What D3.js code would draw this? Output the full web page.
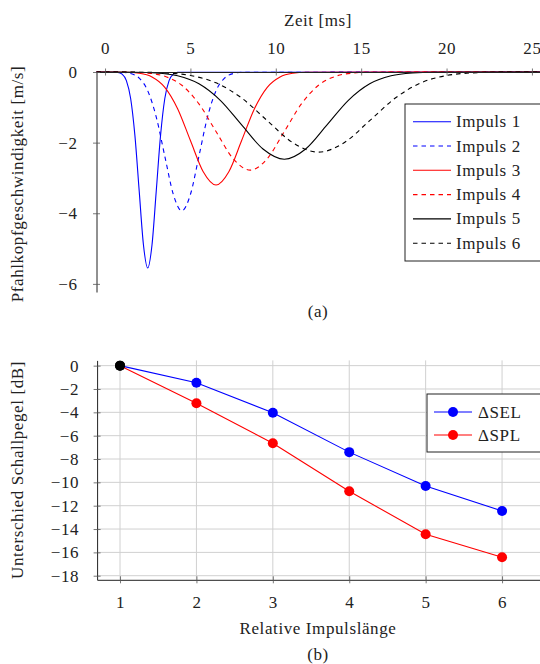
<!DOCTYPE html>
<html>
<head>
<meta charset="utf-8">
<script src="https://cdn.jsdelivr.net/npm/d3@7"></script>
<style>
  body { margin: 0; background: #fff; }
  svg { display: block; font-family: "Liberation Serif", "DejaVu Serif", serif; letter-spacing: 0.6px; }
</style>
</head>
<body>
<svg id="chart" width="540" height="664"></svg>
<script>
// (a) Pfahlkopfgeschwindigkeit, sample points
var impulsNamen = ["Impuls 1", "Impuls 2", "Impuls 3", "Impuls 4", "Impuls 5", "Impuls 6"];
var impulsFarben = ["#0000ff", "#0000ff", "#ff0000", "#ff0000", "#000000", "#000000"];
var impulsGestrichelt = [false, true, false, true, false, true];

var impulsZeit = [
    [-0.5, 0.75, 1.0, 1.25, 1.5, 1.75, 2.0, 2.25, 2.5, 2.75, 3.0, 3.25, 3.5, 3.75, 4.0, 4.25, 26],
    [-0.5, 1.0, 1.5, 2.0, 2.5, 3.0, 3.5, 4.0, 4.5, 5.0, 5.5, 6.0, 6.5, 7.0, 7.5, 8.0, 26],
    [-0.5, 1.25, 2.0, 2.75, 3.5, 4.25, 5.0, 5.75, 6.5, 7.25, 8.0, 8.75, 9.5, 10.25, 11.0, 11.75, 26],
    [-0.5, 1.5, 2.5, 3.5, 4.5, 5.5, 6.5, 7.5, 8.5, 9.5, 10.5, 11.5, 12.5, 13.5, 14.5, 15.5, 26],
    [-0.5, 1.75, 3.0, 4.25, 5.5, 6.75, 8.0, 9.25, 10.5, 11.75, 13.0, 14.25, 15.5, 16.75, 18.0, 19.25, 26],
    [-0.5, 2.0, 3.5, 5.0, 6.5, 8.0, 9.5, 11.0, 12.5, 14.0, 15.5, 17.0, 18.5, 20.0, 21.5, 23.0, 26]
];
var impulsWert = [
    [0, -0.012, -0.062, -0.244, -0.751, -1.802, -3.366, -4.898, -5.55, -4.898, -3.366, -1.802, -0.751, -0.244, -0.062, -0.012, 0],
    [0, -0.009, -0.044, -0.173, -0.532, -1.276, -2.384, -3.468, -3.93, -3.468, -2.384, -1.276, -0.532, -0.173, -0.044, -0.009, 0],
    [0, -0.007, -0.036, -0.140, -0.433, -1.039, -1.941, -2.824, -3.2, -2.824, -1.941, -1.039, -0.433, -0.140, -0.036, -0.007, 0],
    [0, -0.006, -0.031, -0.122, -0.376, -0.903, -1.686, -2.453, -2.78, -2.453, -1.686, -0.903, -0.376, -0.122, -0.031, -0.006, 0],
    [0, -0.005, -0.027, -0.108, -0.334, -0.802, -1.498, -2.180, -2.47, -2.180, -1.498, -0.802, -0.334, -0.108, -0.027, -0.005, 0],
    [0, -0.005, -0.025, -0.100, -0.307, -0.737, -1.377, -2.003, -2.27, -2.003, -1.377, -0.737, -0.307, -0.100, -0.025, -0.005, 0]
];
var zeitTicks = [0, 5, 10, 15, 20, 25];
var geschwTicks = [0, -2, -4, -6];

// (b) Unterschied Schallpegel
var impulsLaenge = [1, 2, 3, 4, 5, 6];
var deltaSEL = [0, -1.46, -4.03, -7.41, -10.31, -12.45];
var deltaSPL = [0, -3.22, -6.65, -10.76, -14.45, -16.42];
var laengeTicks = [1, 2, 3, 4, 5, 6];
var pegelTicks = [0, -2, -4, -6, -8, -10, -12, -14, -16, -18];

var svg = d3.select("#chart");
var fs = 17;
var fam = "Liberation Serif, DejaVu Serif, serif";
var tickCol = "#555";

function fmt(v) { return v < 0 ? "\u2212" + Math.abs(v) : String(v); }

// crossing tick marks, pgfplots style
function crossTicks(g, horizontal) {
    g.attr("font-family", fam);
    g.selectAll(".tick line")
        .attr("stroke", tickCol).attr("stroke-width", 0.8);
    if (horizontal) g.selectAll(".tick line").attr("y1", -3.5).attr("y2", 3.5);
    else g.selectAll(".tick line").attr("x1", -3.5).attr("x2", 3.5);
    g.select(".domain").attr("stroke", "#222").attr("stroke-width", 1);
    g.selectAll(".tick text").attr("fill", "#222").attr("font-size", fs).attr("font-family", fam);
}

// ---------- chart (a) ----------
var xA = d3.scaleLinear().domain([-0.5, 26]).range([96.5, 549]);
var yA = d3.scaleLinear().domain([-6.23, 0]).range([292, 72]);

var line = d3.line()
    .x(function(d) { return xA(d[0]); })
    .y(function(d) { return yA(d[1]); })
    .curve(d3.curveMonotoneX);

var gA = svg.append("g");

gA.selectAll("path.impuls")
    .data(impulsNamen)
    .enter()
    .append("path")
    .attr("class", "impuls")
    .attr("d", function(d, i) { return line(d3.zip(impulsZeit[i], impulsWert[i])); })
    .attr("fill", "none")
    .attr("stroke", function(d, i) { return impulsFarben[i]; })
    .attr("stroke-width", 1.1)
    .attr("stroke-dasharray", function(d, i) { return impulsGestrichelt[i] ? "4.5,4" : null; });

var axA_x = gA.append("g")
    .attr("transform", "translate(0," + yA(0) + ")")
    .call(d3.axisTop(xA).tickValues(zeitTicks).tickSizeOuter(0).tickPadding(12).tickFormat(fmt));
crossTicks(axA_x, true);

var axA_y = gA.append("g")
    .attr("transform", "translate(" + xA(-0.5) + ",0)")
    .call(d3.axisLeft(yA).tickValues(geschwTicks).tickSizeOuter(0).tickPadding(13).tickFormat(fmt));
crossTicks(axA_y, false);

gA.append("text").attr("x", 318).attr("y", 26).attr("text-anchor", "middle")
    .attr("font-size", fs).attr("fill", "#222").text("Zeit [ms]");
gA.append("text").attr("transform", "translate(23,184) rotate(-90)").attr("text-anchor", "middle")
    .attr("font-size", fs).attr("fill", "#222").text("Pfahlkopfgeschwindigkeit [m/s]");
gA.append("text").attr("x", 318).attr("y", 317).attr("text-anchor", "middle")
    .attr("font-size", fs).attr("fill", "#222").text("(a)");

// legend (a)
var legA = gA.append("g").attr("transform", "translate(405,104)");
legA.append("rect").attr("width", 150).attr("height", 157)
    .attr("fill", "#fff").attr("stroke", "#222").attr("stroke-width", 1);
var legItems = legA.selectAll("g.item").data(impulsNamen).enter().append("g")
    .attr("transform", function(d, i) { return "translate(0," + (17.7 + i * 24.3) + ")"; });
legItems.append("line").attr("x1", 8).attr("x2", 46).attr("y1", 0).attr("y2", 0)
    .attr("stroke", function(d, i) { return impulsFarben[i]; })
    .attr("stroke-width", 1.1)
    .attr("stroke-dasharray", function(d, i) { return impulsGestrichelt[i] ? "4.5,4" : null; });
legItems.append("text").attr("x", 51).attr("y", 5.5).attr("font-size", fs).attr("fill", "#222")
    .text(function(d) { return d; });

// ---------- chart (b) ----------
var xB = d3.scaleLinear().domain([0.7, 6.85]).range([97.1, 567]);
var yB = d3.scaleLinear().domain([-18.35, 0.45]).range([579.8, 360.4]);

var gB = svg.append("g");

// grid
gB.selectAll("line.vgrid").data(laengeTicks).enter().append("line")
    .attr("x1", function(d) { return xB(d); }).attr("x2", function(d) { return xB(d); })
    .attr("y1", yB(0.45)).attr("y2", yB(-18.35))
    .attr("stroke", "#d0d0d0").attr("stroke-width", 1);
gB.selectAll("line.hgrid").data(pegelTicks).enter().append("line")
    .attr("x1", xB(0.7)).attr("x2", xB(6.85))
    .attr("y1", function(d) { return yB(d); }).attr("y2", function(d) { return yB(d); })
    .attr("stroke", "#d0d0d0").attr("stroke-width", 1);

var axB_x = gB.append("g")
    .attr("transform", "translate(0," + yB(-18.35) + ")")
    .call(d3.axisBottom(xB).tickValues(laengeTicks).tickSizeOuter(0).tickPadding(10).tickFormat(fmt));
crossTicks(axB_x, true);

var axB_y = gB.append("g")
    .attr("transform", "translate(" + xB(0.7) + ",0)")
    .call(d3.axisLeft(yB).tickValues(pegelTicks).tickSizeOuter(0).tickPadding(12).tickFormat(fmt));
crossTicks(axB_y, false);

var serien = [
    { name: "\u0394SEL", werte: deltaSEL, farbe: "#0000ff" },
    { name: "\u0394SPL", werte: deltaSPL, farbe: "#ff0000" }
];

var lineB = d3.line()
    .x(function(d) { return xB(d[0]); })
    .y(function(d) { return yB(d[1]); });

serien.forEach(function(s) {
    var pts = d3.zip(impulsLaenge, s.werte);
    gB.append("path").attr("d", lineB(pts)).attr("fill", "none")
        .attr("stroke", s.farbe).attr("stroke-width", 1.1);
    gB.selectAll(null).data(pts).enter().append("circle")
        .attr("cx", function(d) { return xB(d[0]); })
        .attr("cy", function(d) { return yB(d[1]); })
        .attr("r", 5)
        .attr("fill", function(d, i) { return i === 0 ? "#000" : s.farbe; });
});

gB.append("text").attr("x", 318).attr("y", 634).attr("text-anchor", "middle")
    .attr("font-size", fs).attr("fill", "#222").text("Relative Impulsl\u00e4nge");
gB.append("text").attr("x", 318).attr("y", 660).attr("text-anchor", "middle")
    .attr("font-size", fs).attr("fill", "#222").text("(b)");
gB.append("text").attr("transform", "translate(23,470) rotate(-90)").attr("text-anchor", "middle")
    .attr("font-size", fs).attr("fill", "#222").text("Unterschied Schallpegel [dB]");

// legend (b)
var legB = gB.append("g").attr("transform", "translate(427,394)");
legB.append("rect").attr("width", 130).attr("height", 58)
    .attr("fill", "#fff").attr("stroke", "#222").attr("stroke-width", 1);
var legBItems = legB.selectAll("g.item").data(serien).enter().append("g")
    .attr("transform", function(d, i) { return "translate(0," + (18 + i * 23) + ")"; });
legBItems.append("line").attr("x1", 7).attr("x2", 45).attr("y1", 0).attr("y2", 0)
    .attr("stroke", function(d) { return d.farbe; }).attr("stroke-width", 1.1);
legBItems.append("circle").attr("cx", 26).attr("cy", 0).attr("r", 5)
    .attr("fill", function(d) { return d.farbe; });
legBItems.append("text").attr("x", 51).attr("y", 5.5).attr("font-size", fs).attr("fill", "#222")
    .text(function(d) { return d.name; });
</script>
</body>
</html>
